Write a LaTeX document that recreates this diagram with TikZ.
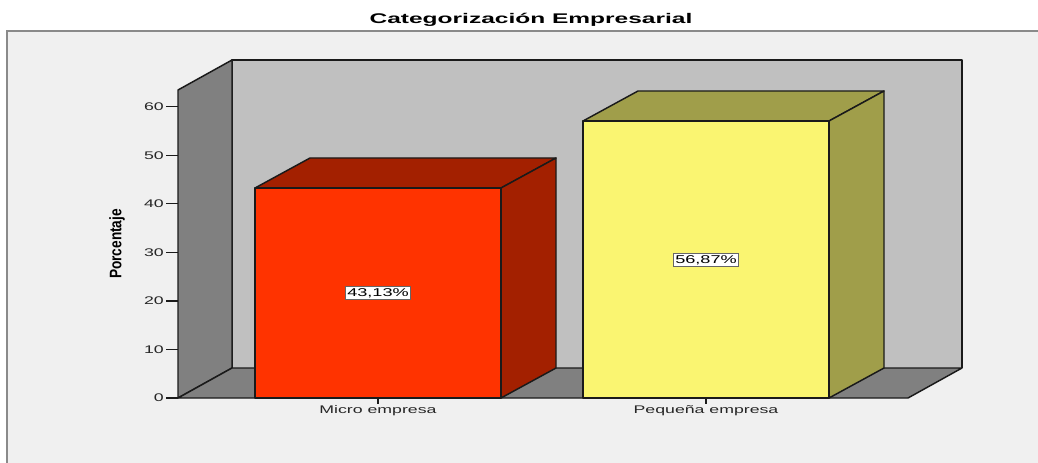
\documentclass[tikz,border=0pt]{standalone}
\usepackage{fontspec}
\setmainfont{Liberation Sans}
\definecolor{panelbg}{HTML}{F0F0F0}
\definecolor{framegray}{HTML}{8A8A8A}
\definecolor{wallback}{HTML}{C0C0C0}
\definecolor{wallside}{HTML}{808080}
\definecolor{redfront}{HTML}{FF3300}
\definecolor{reddark}{HTML}{A32000}
\definecolor{yelfront}{HTML}{FAF571}
\definecolor{yeldark}{HTML}{A09E4A}
\definecolor{edge}{HTML}{1A1A1A}
\newcommand{\widetxt}[1]{\scalebox{1.6}[1]{#1}}
\tikzset{
  face/.style={draw=edge, line width=1.1pt, line join=round},
  ticklbl/.style={anchor=east, inner sep=0pt, font=\fontsize{8.3}{10}\selectfont, text=black!85},
  catlbl/.style={anchor=north, inner sep=0pt, font=\fontsize{8.3}{10}\selectfont, text=black!85},
  pctbox/.style={draw=black!60, fill=white, line width=0.8pt, inner sep=1.5pt, font=\fontsize{8.5}{10}\selectfont},
  tickline/.style={draw=edge, line width=0.9pt}
}
\begin{document}
\begin{tikzpicture}[x=0.75pt,y=-0.75pt]
\useasboundingbox (0,0) rectangle (1038,463);
\clip (0,0) rectangle (1038,463);
\fill[white] (0,0) rectangle (1038,463);
% outer panel
\draw[framegray, fill=panelbg, line width=1.6pt] (7,31) rectangle (1060,490);
% title
\node[font=\bfseries\fontsize{10.5}{12}\selectfont] (title) at (531,20) {\scalebox{1.75}[1]{Categorización Empresarial}};
% walls
\coordinate (fbl) at (178,398);
\coordinate (ftl) at (178,90);
\coordinate (bbl) at (232,368);
\coordinate (btl) at (232,60);
\coordinate (btr) at (962,60);
\coordinate (bbr) at (962,368);
\coordinate (fbr) at (908,398);
\fill[wallback] (btl) -- (btr) -- (bbr) -- (bbl) -- cycle;
\draw[face] (bbl) -- (btl) -- (btr) -- (bbr);
\draw[face, fill=wallside] (fbl) -- (ftl) -- (btl) -- (bbl) -- cycle;
\draw[face, fill=wallside] (fbl) -- (bbl) -- (bbr) -- (fbr) -- cycle;
% ticks
\foreach \v/\yy in {0/398,10/349.5,20/301,30/252.3,40/203.8,50/155.3,60/106.7}{
  \draw[tickline] (166,\yy) -- (178,\yy);
  \node[ticklbl] (t\v) at (164,\yy) {\widetxt{\v}};
}
% y axis title
\node[rotate=90, font=\bfseries\fontsize{12.5}{14}\selectfont] (ytitle) at (117,244) {\scalebox{0.82}[1]{Porcentaje}};
% bar 1
\draw[face, fill=reddark] (255,188) -- (310,158) -- (556,158) -- (501,188) -- cycle;
\draw[face, fill=reddark] (501,188) -- (556,158) -- (556,368) -- (501,398) -- cycle;
\draw[face, fill=redfront] (255,188) rectangle (501,398);
\node[pctbox] (p1) at (378,293) {\widetxt{43,13\%}};
% bar 2
\draw[face, fill=yeldark] (583,121) -- (638,91) -- (884,91) -- (829,121) -- cycle;
\draw[face, fill=yeldark] (829,121) -- (884,91) -- (884,368) -- (829,398) -- cycle;
\draw[face, fill=yelfront] (583,121) rectangle (829,398);
\node[pctbox] (p2) at (706,260) {\widetxt{56,87\%}};
% category ticks and labels
\draw[tickline] (378,398) -- (378,404);
\draw[tickline] (706,398) -- (706,404);
\node[catlbl] (c1) at (378,405) {\widetxt{Micro empresa}};
\node[catlbl] (c2) at (706,405) {\widetxt{Pequeña empresa}};
\end{tikzpicture}
\end{document}
